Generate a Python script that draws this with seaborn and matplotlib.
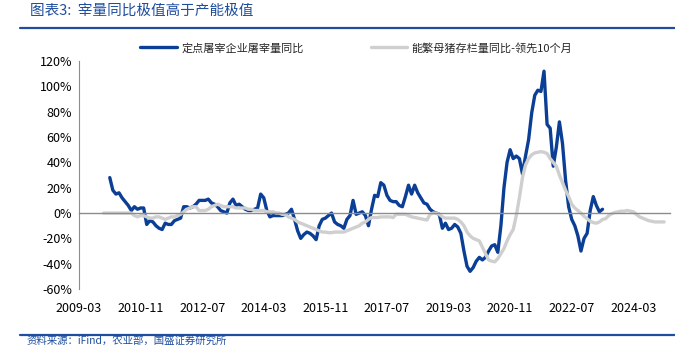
import matplotlib
matplotlib.use("Agg")
import matplotlib.pyplot as plt
import matplotlib.lines as mlines
import seaborn as sns
import pandas as pd
import numpy as np

# ---------------- data ----------------
axis_start = "2009-03"
axis_end = "2025-03"
tick_labels = ["2009-03", "2010-11", "2012-07", "2014-03", "2015-11",
               "2017-07", "2019-03", "2020-11", "2022-07", "2024-03"]
ytick_values = [-60, -40, -20, 0, 20, 40, 60, 80, 100, 120]

blue_name = "定点屠宰企业屠宰量同比"
blue_start = "2010-01"
blue_values = [
    28, 18, 15, 16, 12, 9, 6, 2, 5, 3,
    4, 4, -9, -6, -7, -10, -12, -13, -8, -9,
    -9, -6, -5, -4, 5, 5, 4, 5, 7, 10,
    10, 10, 11, 8, 7, 5, 2, 1, 0, 8,
    11, 6, 7, 5, 3, 2, 2, 3, 4, 15,
    12, 2, -3, -2, -2, -2, -2, -1, 0, 3,
    -5, -14, -20, -17, -15, -16, -18, -21, -10, -5,
    -4, -2, 0, -7, -9, -10, -12, -5, -2, 10,
    -1, 0, 1, -2, -10, 3, 14, 13, 24, 22,
    14, 10, 9, 9, 6, 5, 13, 22, 15, 22,
    16, 12, 8, 7, 3, 1, 0, -1, -12, -8,
    -13, -12, -9, -11, -16, -30, -42, -46, -43, -38,
    -35, -37, -35, -30, -26, -25, -31, -10, 20, 40,
    50, 43, 45, 43, 31, 45, 58, 79, 93, 97,
    96, 112, 70, 67, 37, 52, 72, 55, 26, 5,
    -5, -10, -18, -30, -20, -16, 2, 13, 6, 1,
    3,
]

gray_name = "能繁母猪存栏量同比-领先10个月"
gray_start = "2009-11"
gray_values = [
    0, 0, 0, 0, 0, 0, 0, 0, 0, 0,
    -2, -3, -2, -2, -3, -4, -4, -3, -3, -4,
    -5, -4, -3, -3, -2, -1, 1, 3, 4, 5,
    5, 2, 2, 2, 3, 5, 6, 7, 6, 5,
    5, 5, 5, 4, 4, 4, 4, 3, 3, 2,
    2, 2, 2, 1, 1, 1, 0, 0, -1, -1,
    -3, -4, -5, -7, -8, -9, -10, -11, -12, -13,
    -14, -15, -15, -15.5, -15.5, -15, -15, -15, -15, -14,
    -13, -12, -11, -10, -8, -7, -5, -3.5, -3.5, -3.5,
    -3, -3, -3, -3, -3.5, -1, -1, -1, -1, -2,
    -3, -3.5, -4, -4.5, -5, -5.5, -1, 0, 0, -1,
    -3, -4, -4, -4, -4, -5, -7, -10, -15, -18,
    -20, -21, -22, -27, -32, -37, -38, -38.5, -36, -32,
    -28, -22, -17, -13, -2, 12, 28, 38, 43, 46,
    47.5, 48, 48.5, 48, 47, 43, 40, 37, 30, 24,
    18, 13, 7, 4, 2, 0, -2.5, -4.5, -6.5, -7.5,
    -8, -7, -5, -4.5, -2, -0.5, 0.5, 1, 1.5, 1.5,
    2, 1.5, 1, -1, -3, -4, -5, -6, -6.5, -7,
    -7, -7, -7,
]

title_text = "图表3:  宰量同比极值高于产能极值"
source_text = "资料来源：iFind，农业部，国盛证券研究所"

# ---------------- build frames ----------------
months = pd.period_range(axis_start, axis_end, freq="M")
month_pos = {str(p): i for i, p in enumerate(months)}

def series_frame(start, values, name):
    b = month_pos[start]
    return pd.DataFrame({"pos": np.arange(b, b + len(values)),
                         "value": values, "series": name})

df = pd.concat([series_frame(blue_start, blue_values, blue_name),
                series_frame(gray_start, gray_values, gray_name)],
               ignore_index=True)

# ---------------- style ----------------
sns.set_style("white")
plt.rcParams["font.family"] = ["Noto Sans CJK SC", "DejaVu Sans"]
plt.rcParams["axes.unicode_minus"] = False

BLUE = "#0B3F96"
GRAY = "#CFCFCF"
AXIS = "#8C8C8C"
HEAD = "#1F4E9E"

fig = plt.figure(figsize=(6.75, 3.47), dpi=100)
ax = fig.add_axes([0.117, 0.167, 0.876, 0.657])

palette = {blue_name: BLUE, gray_name: GRAY}
sns.lineplot(data=df, x="pos", y="value", hue="series", palette=palette,
             hue_order=[blue_name, gray_name], linewidth=2.4, ax=ax,
             legend=False)

ax.set_xlim(0, len(months) - 1)
ax.set_ylim(-60, 120)
ax.set_xlabel("")
ax.set_ylabel("")

# y axis
ax.set_yticks(ytick_values)
ax.set_yticklabels([f"{v}%" for v in ytick_values])
ax.tick_params(axis="y", direction="out", length=3, width=0.8, color=AXIS,
               labelsize=9, labelcolor="black", pad=2)
ax.spines["left"].set_color(AXIS)
ax.spines["left"].set_linewidth(0.8)
ax.spines["top"].set_visible(False)
ax.spines["right"].set_visible(False)

# x axis line at zero with inward ticks
tick_pos = [month_pos[t] for t in tick_labels]
ax.spines["bottom"].set_position(("data", 0))
ax.spines["bottom"].set_color(AXIS)
ax.spines["bottom"].set_linewidth(1.0)
ax.set_xticks(tick_pos)
ax.tick_params(axis="x", direction="in", length=3, width=0.8, color=AXIS,
               labelbottom=False)

sec = ax.secondary_xaxis("bottom")
sec.set_xticks(tick_pos)
sec.set_xticklabels(tick_labels)
sec.spines["bottom"].set_visible(False)
sec.tick_params(length=0, pad=9, labelsize=9, labelcolor="black")

# legend
handles = [mlines.Line2D([], [], color=BLUE, linewidth=2.4),
           mlines.Line2D([], [], color=GRAY, linewidth=2.4)]
fig.legend(handles, [blue_name, gray_name], loc="center",
           bbox_to_anchor=(0.528, 0.862), ncol=2, frameon=False,
           fontsize=8, handlelength=3.3, handletextpad=0.4,
           columnspacing=6.0)

# header & footer
fig.text(0.044, 0.968, title_text, color=HEAD, fontsize=10.5,
         style="italic", va="center", ha="left")
fig.add_artist(mlines.Line2D([0.03, 1.0], [0.918, 0.918],
                             transform=fig.transFigure, color=HEAD,
                             linewidth=1.6))
fig.add_artist(mlines.Line2D([0.03, 1.0], [0.036, 0.036],
                             transform=fig.transFigure, color=HEAD,
                             linewidth=1.6))
fig.text(0.04, 0.004, source_text, color=HEAD, fontsize=7.5,
         style="italic", va="bottom", ha="left")

fig.savefig("out.png", dpi=100)
